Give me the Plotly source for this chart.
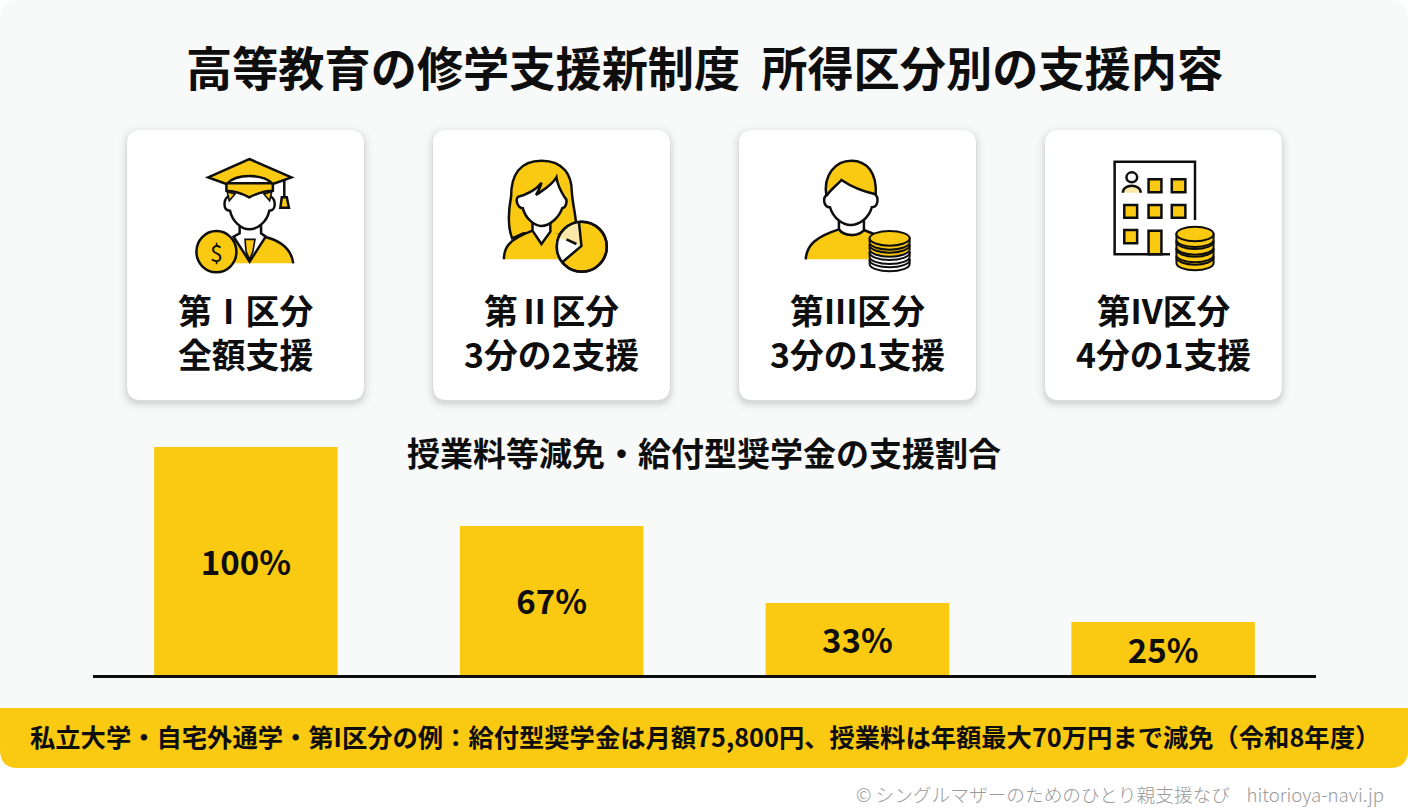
import re
import plotly.graph_objects as go

# chart values
categories = ['第Ⅰ区分', '第Ⅱ区分', '第III区分', '第IV区分']
bar_heights = [100, 65.4, 31.6, 23.2]
bar_labels = ['100%', '67%', '33%', '25%']
card_subtitles = ['全額支援', '3分の2支援', '3分の1支援', '4分の1支援']

title_text = '高等教育の修学支援新制度  所得区分別の支援内容'
chart_title = '授業料等減免・給付型奨学金の支援割合'
footer_text = '私立大学・自宅外通学・第I区分の例：給付型奨学金は月額75,800円、授業料は年額最大70万円まで減免（令和8年度）'
credit_text = '© シングルマザーのためのひとり親支援なび    hitorioya-navi.jp'

YELLOW = '#FAC912'
LIGHT = '#FCE9A9'
INK = '#0E0E0E'
FONT = 'Noto Sans CJK JP'
STROKE = 2.5

shapes = []
notes = []


def add_path(path, fill=None, line=INK, width=STROKE):
    shapes.append(dict(type='path', path=path, xref='x', yref='y', layer='below',
                       fillcolor=fill if fill else 'rgba(0,0,0,0)',
                       line=dict(color=line if line else 'rgba(0,0,0,0)', width=width if line else 0)))


def rounded(x0, y0, x1, y1, r):
    return (f'M {x0+r} {y0} L {x1-r} {y0} Q {x1} {y0} {x1} {y0+r} L {x1} {y1-r} Q {x1} {y1} {x1-r} {y1} '
            f'L {x0+r} {y1} Q {x0} {y1} {x0} {y1-r} L {x0} {y0+r} Q {x0} {y0} {x0+r} {y0} Z')


def zoomed(path, ox, oy):
    out = []
    is_x = True
    for tok in re.findall(r'[A-Za-z]|-?\d+\.?\d*', path):
        if tok.isalpha():
            out.append(tok)
            is_x = True
        elif is_x:
            out.append(f'{ox + float(tok) / 2.8:.2f}')
            is_x = False
        else:
            out.append(f'{oy + float(tok) / 3:.2f}')
            is_x = True
    return ' '.join(out)


def ellipse(cx, cy, rx, ry):
    k = 0.5523
    return (f'M {cx-rx} {cy} C {cx-rx} {cy-k*ry} {cx-k*rx} {cy-ry} {cx} {cy-ry} '
            f'C {cx+k*rx} {cy-ry} {cx+rx} {cy-k*ry} {cx+rx} {cy} '
            f'C {cx+rx} {cy+k*ry} {cx+k*rx} {cy+ry} {cx} {cy+ry} '
            f'C {cx-k*rx} {cy+ry} {cx-rx} {cy+k*ry} {cx-rx} {cy} Z')


def coin(cx, cy, rx, ry, h, fill, ox, oy):
    k = 0.5523
    side = (f'M {cx-rx} {cy} L {cx-rx} {cy+h} C {cx-rx} {cy+h+k*ry} {cx-k*rx} {cy+h+ry} {cx} {cy+h+ry} '
            f'C {cx+k*rx} {cy+h+ry} {cx+rx} {cy+h+k*ry} {cx+rx} {cy+h} L {cx+rx} {cy} Z')
    add_path(zoomed(side, ox, oy), fill, INK, 2)
    add_path(zoomed(ellipse(cx, cy, rx, ry), ox, oy), fill, INK, 2)


def note(x, y, text, size, weight=700, color=INK, anchor='center'):
    notes.append(dict(x=x, y=y, xref='x', yref='y', text=text, showarrow=False, xanchor=anchor, yanchor='middle',
                      font=dict(family=FONT, size=size, color=color, weight=weight)))


def icon_graduate(ox, oy):
    def p(path, fill=None, line=INK, width=STROKE):
        add_path(zoomed(path, ox, oy), fill, line, width)
    p('M 320 350 L 405 350 C 450 362 480 385 485 430 L 320 430 Z', YELLOW, None)
    p('M 405 350 C 450 362 480 385 485 430')
    p('M 335 318 L 335 340 L 318 350 L 363 425 L 408 350 L 395 340 L 395 318 Z', '#FFFFFF')
    p('M 350 358 L 378 358 L 372 395 L 363 418 L 353 395 Z', YELLOW, INK, 1.6)
    p('M 305 228 C 288 238 288 272 308 272 C 315 305 340 328 362 328 C 385 328 412 305 418 272 '
      'C 438 272 438 238 420 228 L 420 210 L 305 210 Z', '#FFFFFF')
    p('M 300 215 L 322 222 L 306 242 Z', YELLOW, INK, 1.6)
    p('M 425 215 L 403 222 L 419 242 Z', YELLOW, INK, 1.6)
    p('M 298 190 L 298 212 C 325 212 345 222 362 232 C 380 222 400 212 428 212 L 428 190 Z', YELLOW)
    p('M 362 117 L 480 172 L 428 192 C 400 160 325 160 298 192 L 247 172 Z', YELLOW)
    p('M 460 178 L 460 232')
    p('M 453 232 L 467 232 L 473 263 L 449 263 Z', YELLOW)
    p(ellipse(270, 395, 56, 62), YELLOW)
    note(ox + 270 / 2.8, oy + 395 / 3, '$', 23, 400)


def icon_woman(ox, oy):
    def p(path, fill=None, line=INK, width=STROKE):
        add_path(zoomed(path, ox, oy), fill, line, width)
    p('M 1180 122 C 1245 122 1265 170 1265 215 C 1268 260 1278 290 1278 330 L 1230 345 L 1130 340 L 1098 355 '
      'C 1085 320 1088 270 1095 230 C 1095 165 1120 122 1180 122 Z', YELLOW)
    p('M 1075 418 C 1075 385 1085 360 1155 332 L 1180 372 L 1205 335 L 1250 350 L 1250 418 Z', YELLOW, None)
    p('M 1075 418 C 1075 385 1085 360 1155 332')
    p('M 1155 295 L 1155 332 L 1180 372 L 1205 335 L 1205 295 Z', '#FFFFFF')
    p('M 1115 230 C 1105 240 1115 265 1128 265 C 1135 295 1160 318 1180 318 C 1205 318 1230 290 1238 265 '
      'C 1250 262 1255 240 1245 232 C 1235 215 1225 195 1222 172 C 1210 195 1185 210 1165 225 '
      'C 1172 210 1178 200 1180 188 C 1165 210 1135 225 1115 230 Z', '#FFFFFF')
    p(ellipse(1293, 380, 70, 75), YELLOW)
    p('M 1290 378 L 1285 307 C 1255 309 1235 330 1229 352 Z', LIGHT, None)
    p('M 1290 378 L 1229 352 C 1221 380 1226 410 1240 425 Z', '#FFFFFF', None)
    p('M 1285 306 L 1292 378 L 1240 425')
    p('M 1250 358 L 1278 372')
    p(ellipse(1293, 380, 70, 75))


def icon_boy(ox, oy):
    def p(path, fill=None, line=INK, width=STROKE):
        add_path(zoomed(path, ox, oy), fill, line, width)
    p('M 212 418 C 215 375 240 350 305 328 C 320 350 360 350 375 330 L 410 345 L 410 418 Z', YELLOW, None)
    p('M 212 418 C 215 375 240 350 305 328 C 320 350 360 350 375 330 L 410 345')
    p('M 305 295 L 305 328 C 320 350 360 350 375 330 L 375 295 Z', '#FFFFFF')
    p('M 340 122 C 385 122 412 160 408 225 L 270 228 C 260 165 295 122 340 122 Z', YELLOW)
    p('M 272 225 C 258 232 262 262 280 262 C 290 295 315 315 338 315 C 362 315 388 295 397 262 '
      'C 415 262 418 232 405 222 C 375 215 340 200 312 180 C 300 195 285 205 272 225 Z', '#FFFFFF')
    for cy, fill in [(420, '#FFFFFF'), (398, '#FFFFFF'), (376, YELLOW), (355, YELLOW)]:
        coin(447, cy, 56, 22, 12, fill, ox, oy)


def icon_building(ox, oy):
    def p(path, fill=None, line=INK, width=STROKE):
        add_path(zoomed(path, ox, oy), fill, line, width)
    p('M 1302 300 L 1302 125 L 1077 125 L 1077 403 L 1232 403')
    windows = [(1172, 178, 1208, 217), (1237, 178, 1275, 217), (1104, 255, 1140, 293),
               (1172, 255, 1208, 293), (1237, 255, 1275, 293), (1104, 330, 1140, 370)]
    for x0, y0, x1, y1 in windows:
        p(f'M {x0} {y0} L {x1} {y0} L {x1} {y1} L {x0} {y1} Z', YELLOW)
    p('M 1172 403 L 1172 332 L 1208 332 L 1208 403 Z', YELLOW)
    p(ellipse(1125, 172, 15, 15), '#FFFFFF')
    p('M 1100 218 C 1100 190 1150 190 1150 218 Z', LIGHT, None)
    p('M 1100 218 C 1100 190 1150 190 1150 218')
    for cy in [412, 388, 365, 342]:
        coin(1302, cy, 52, 22, 17, YELLOW, ox, oy)


# page panel and footer band
add_path(rounded(0, 0, 1408, 768, 20), '#F8F9F9', None)
add_path('M 0 708 L 1408 708 L 1408 750 Q 1408 768 1390 768 L 18 768 Q 0 768 0 750 Z', YELLOW, None)

# cards
card_lefts = [127, 433, 739, 1045]
for i, left in enumerate(card_lefts):
    for grow, alpha in [(9, 0.008), (7, 0.012), (5, 0.018), (3, 0.03), (1, 0.05)]:
        add_path(rounded(left - grow, 130 - grow + 3, left + 237 + grow, 400 + grow + 3, 14 + grow),
                 f'rgba(0,0,0,{alpha})', None)
    add_path(rounded(left, 130, left + 237, 400, 14), '#FFFFFF', None)
    note(left + 118.5, 331, categories[i] + '<br>' + card_subtitles[i], 33.8)

icon_graduate(120, 120)
icon_woman(120, 120)
icon_boy(730, 120)
icon_building(730, 120)

note(704, 65, title_text, 46.2)
note(704, 452, chart_title, 33)
note(705, 736, footer_text, 25.3)
note(1386, 793, credit_text, 18.7, 300, '#9A9A9A', 'right')

fig = go.Figure()
fig.add_trace(go.Bar(x=categories, y=bar_heights, text=bar_labels, xaxis='x2', yaxis='y2',
                     marker=dict(color=YELLOW, line=dict(width=0)),
                     textposition='inside', insidetextanchor='middle', textangle=0,
                     constraintext='none',
                     textfont=dict(family=FONT, size=33, color=INK, weight=700),
                     showlegend=False, hoverinfo='skip'))

fig.update_layout(
    width=1408, height=812, margin=dict(l=0, r=0, t=0, b=0),
    paper_bgcolor='#FFFFFF', plot_bgcolor='rgba(0,0,0,0)',
    bargap=0.4, showlegend=False, shapes=shapes, annotations=notes,
    xaxis=dict(range=[0, 1408], visible=False, domain=[0, 1]),
    yaxis=dict(range=[812, 0], visible=False, domain=[0, 1]),
    xaxis2=dict(domain=[93 / 1408, 1316 / 1408], anchor='y2', showticklabels=False, ticks='',
                showgrid=False, zeroline=False, showline=True, linecolor=INK, linewidth=2.5),
    yaxis2=dict(domain=[(812 - 675) / 812, (812 - 447) / 812], anchor='x2', range=[0, 100],
                visible=False, showgrid=False),
)

fig.write_html("out.html", config={'displayModeBar': False}, post_script="document.body.style.margin='0';")
